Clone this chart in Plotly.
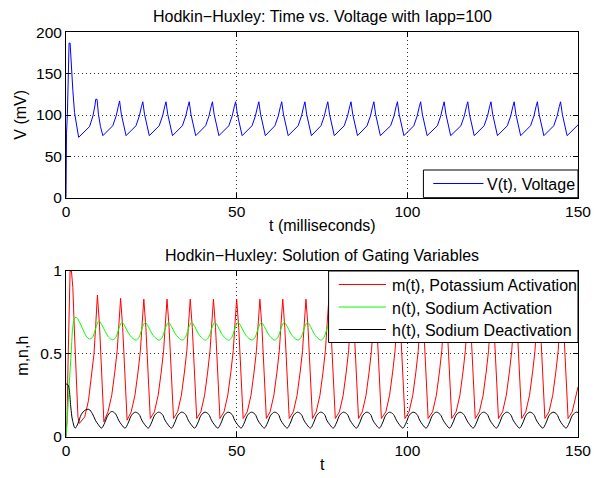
import plotly.graph_objects as go

# ---------------- data (t in ms) ----------------
# membrane voltage, vertices of the trace
t_volt = [
    0.0, 0.05, 0.15, 0.4, 0.7, 0.9, 1.2, 1.5, 2.0, 2.5, 3.0, 3.7,
    6.9, 7.9, 8.5, 8.7, 9.1, 9.5, 10.1, 10.8,
    13.7, 14.7, 15.3, 15.7, 16.2, 16.9, 17.6,
    20.5, 21.5, 22.1, 22.5, 23.0, 23.7, 24.4,
    27.3, 28.3, 28.9, 29.3, 29.8, 30.5, 31.2,
    34.1, 35.1, 35.7, 36.1, 36.6, 37.3, 38.0,
    40.9, 41.9, 42.5, 42.9, 43.4, 44.1, 44.8,
    47.7, 48.7, 49.3, 49.7, 50.2, 50.9, 51.6,
    54.5, 55.5, 56.1, 56.5, 57.0, 57.7, 58.4,
    61.2, 62.2, 62.8, 63.2, 63.7, 64.4, 65.1,
    68.0, 69.0, 69.6, 70.0, 70.5, 71.2, 71.9,
    74.7, 75.7, 76.3, 76.7, 77.2, 77.9, 78.6,
    81.5, 82.5, 83.1, 83.5, 84.0, 84.7, 85.4,
    88.2, 89.2, 89.8, 90.2, 90.7, 91.4, 92.1,
    95.1, 96.1, 96.7, 97.1, 97.6, 98.3, 99.0,
    101.9, 102.9, 103.5, 103.9, 104.4, 105.1, 105.8,
    108.8, 109.8, 110.4, 110.8, 111.3, 112.0, 112.7,
    115.7, 116.7, 117.3, 117.7, 118.2, 118.9, 119.6,
    122.5, 123.5, 124.1, 124.5, 125.0, 125.7, 126.4,
    129.3, 130.3, 130.9, 131.3, 131.8, 132.5, 133.2,
    136.1, 137.1, 137.7, 138.1, 138.6, 139.3, 140.0,
    142.9, 143.9, 144.5, 144.9, 145.4, 146.1, 146.8,
    150.0,
]
v_volt = [
    0, 42, 78, 100, 160, 187, 187, 160, 130, 103, 88, 73,
    86, 99, 112, 119, 119, 101, 86, 75,
    87, 99, 110, 117, 101, 86, 75,
    87, 99, 110, 116, 101, 86, 75,
    87, 99, 110, 116, 101, 86, 75,
    87, 99, 110, 116, 101, 86, 75,
    87, 99, 110, 116, 101, 86, 75,
    87, 99, 110, 116, 101, 86, 75,
    87, 99, 110, 116, 101, 86, 75,
    87, 99, 110, 116, 101, 86, 75,
    87, 99, 110, 116, 101, 86, 75,
    87, 99, 110, 116, 101, 86, 75,
    87, 99, 110, 116, 101, 86, 75,
    87, 99, 110, 116, 101, 86, 75,
    87, 99, 110, 116, 101, 86, 75,
    87, 99, 110, 116, 101, 86, 75,
    87, 99, 110, 116, 101, 86, 75,
    87, 99, 110, 116, 101, 86, 75,
    87, 99, 110, 116, 101, 86, 75,
    87, 99, 110, 116, 101, 86, 75,
    87, 99, 110, 116, 101, 86, 75,
    87, 99, 110, 116, 101, 86, 75,
    88,
]

# gating variable m
t_m = [
    0.0, 0.3, 0.6, 0.9, 1.2, 1.6, 2.0, 2.5, 3.0, 3.5, 3.9,
    5.5, 6.6, 7.5, 8.2, 8.7, 9.2, 9.8, 10.4, 11.1,
    12.3, 13.4, 14.3, 15.0, 15.5, 16.0, 16.6, 17.2, 17.9,
    19.1, 20.2, 21.1, 21.8, 22.3, 22.8, 23.4, 24.0, 24.7,
    25.9, 27.0, 27.9, 28.6, 29.1, 29.6, 30.2, 30.8, 31.5,
    32.7, 33.8, 34.7, 35.4, 35.9, 36.4, 37.0, 37.6, 38.3,
    39.5, 40.6, 41.5, 42.2, 42.7, 43.2, 43.8, 44.4, 45.1,
    46.3, 47.4, 48.3, 49.0, 49.5, 50.0, 50.6, 51.2, 51.9,
    53.1, 54.2, 55.1, 55.8, 56.3, 56.8, 57.4, 58.0, 58.7,
    59.8, 60.9, 61.8, 62.5, 63.0, 63.5, 64.1, 64.7, 65.4,
    66.6, 67.7, 68.6, 69.3, 69.8, 70.3, 70.9, 71.5, 72.2,
    73.3, 74.4, 75.3, 76.0, 76.5, 77.0, 77.6, 78.2, 78.9,
    80.1, 81.2, 82.1, 82.8, 83.3, 83.8, 84.4, 85.0, 85.7,
    86.8, 87.9, 88.8, 89.5, 90.0, 90.5, 91.1, 91.7, 92.4,
    93.7, 94.8, 95.7, 96.4, 96.9, 97.4, 98.0, 98.6, 99.3,
    100.5, 101.6, 102.5, 103.2, 103.7, 104.2, 104.8, 105.4, 106.1,
    107.4, 108.5, 109.4, 110.1, 110.6, 111.1, 111.7, 112.3, 113.0,
    114.3, 115.4, 116.3, 117.0, 117.5, 118.0, 118.6, 119.2, 119.9,
    121.1, 122.2, 123.1, 123.8, 124.3, 124.8, 125.4, 126.0, 126.7,
    127.9, 129.0, 129.9, 130.6, 131.1, 131.6, 132.2, 132.8, 133.5,
    134.7, 135.8, 136.7, 137.4, 137.9, 138.4, 139.0, 139.6, 140.3,
    141.5, 142.6, 143.5, 144.2, 144.7, 145.2, 145.8, 146.4, 147.1,
    148.3, 149.4, 150.0,
]
m_val = [
    0.0, 0.10, 0.45, 0.85, 1.0, 1.0, 0.9, 0.62, 0.32, 0.12, 0.08,
    0.12, 0.22, 0.36, 0.50, 0.67, 0.855, 0.68, 0.37, 0.09,
    0.15, 0.25, 0.39, 0.52, 0.68, 0.835, 0.66, 0.36, 0.10,
    0.15, 0.25, 0.39, 0.52, 0.68, 0.83, 0.66, 0.36, 0.11,
    0.15, 0.25, 0.39, 0.52, 0.68, 0.83, 0.66, 0.36, 0.11,
    0.15, 0.25, 0.39, 0.52, 0.68, 0.83, 0.66, 0.36, 0.11,
    0.15, 0.25, 0.39, 0.52, 0.68, 0.83, 0.66, 0.36, 0.11,
    0.15, 0.25, 0.39, 0.52, 0.68, 0.83, 0.66, 0.36, 0.11,
    0.15, 0.25, 0.39, 0.52, 0.68, 0.83, 0.66, 0.36, 0.11,
    0.15, 0.25, 0.39, 0.52, 0.68, 0.83, 0.66, 0.36, 0.11,
    0.15, 0.25, 0.39, 0.52, 0.68, 0.83, 0.66, 0.36, 0.11,
    0.15, 0.25, 0.39, 0.52, 0.68, 0.83, 0.66, 0.36, 0.11,
    0.15, 0.25, 0.39, 0.52, 0.68, 0.83, 0.66, 0.36, 0.11,
    0.15, 0.25, 0.39, 0.52, 0.68, 0.83, 0.66, 0.36, 0.11,
    0.15, 0.25, 0.39, 0.52, 0.68, 0.83, 0.66, 0.36, 0.11,
    0.15, 0.25, 0.39, 0.52, 0.68, 0.83, 0.66, 0.36, 0.11,
    0.15, 0.25, 0.39, 0.52, 0.68, 0.83, 0.66, 0.36, 0.11,
    0.15, 0.25, 0.39, 0.52, 0.68, 0.83, 0.66, 0.36, 0.11,
    0.15, 0.25, 0.39, 0.52, 0.68, 0.83, 0.66, 0.36, 0.11,
    0.15, 0.25, 0.39, 0.52, 0.68, 0.83, 0.66, 0.36, 0.11,
    0.15, 0.25, 0.39, 0.52, 0.68, 0.83, 0.66, 0.36, 0.11,
    0.15, 0.25, 0.39, 0.52, 0.68, 0.83, 0.66, 0.36, 0.11,
    0.15, 0.25, 0.30,
]

# gating variable n
t_n = [
    0.0, 0.4, 0.9, 1.5, 2.1, 2.7, 3.3, 4.0, 5.0, 6.0, 6.9,
    7.8, 8.4, 8.9, 9.6, 10.5, 11.5, 12.5,
    13.7, 14.6, 15.2, 15.7, 16.4, 17.3, 18.3, 19.3,
    20.5, 21.4, 22.0, 22.5, 23.2, 24.1, 25.1, 26.1,
    27.3, 28.2, 28.8, 29.3, 30.0, 30.9, 31.9, 32.9,
    34.1, 35.0, 35.6, 36.1, 36.8, 37.7, 38.7, 39.7,
    40.9, 41.8, 42.4, 42.9, 43.6, 44.5, 45.5, 46.5,
    47.7, 48.6, 49.2, 49.7, 50.4, 51.3, 52.3, 53.3,
    54.5, 55.4, 56.0, 56.5, 57.2, 58.1, 59.1, 60.1,
    61.2, 62.1, 62.7, 63.2, 63.9, 64.8, 65.8, 66.8,
    68.0, 68.9, 69.5, 70.0, 70.7, 71.6, 72.6, 73.6,
    74.7, 75.6, 76.2, 76.7, 77.4, 78.3, 79.3, 80.3,
    81.5, 82.4, 83.0, 83.5, 84.2, 85.1, 86.1, 87.1,
    88.2, 89.1, 89.7, 90.2, 90.9, 91.8, 92.8, 93.8,
    95.1, 96.0, 96.6, 97.1, 97.8, 98.7, 99.7, 100.7,
    101.9, 102.8, 103.4, 103.9, 104.6, 105.5, 106.5, 107.5,
    108.8, 109.7, 110.3, 110.8, 111.5, 112.4, 113.4, 114.4,
    115.7, 116.6, 117.2, 117.7, 118.4, 119.3, 120.3, 121.3,
    122.5, 123.4, 124.0, 124.5, 125.2, 126.1, 127.1, 128.1,
    129.3, 130.2, 130.8, 131.3, 132.0, 132.9, 133.9, 134.9,
    136.1, 137.0, 137.6, 138.1, 138.8, 139.7, 140.7, 141.7,
    142.9, 143.8, 144.4, 144.9, 145.6, 146.5, 147.5, 148.5,
    150.0,
]
n_val = [
    0.0, 0.12, 0.30, 0.50, 0.68, 0.72, 0.715, 0.69, 0.645, 0.605, 0.59,
    0.60, 0.635, 0.665, 0.70, 0.675, 0.635, 0.60,
    0.585, 0.60, 0.635, 0.665, 0.69, 0.665, 0.625, 0.598,
    0.583, 0.60, 0.635, 0.665, 0.69, 0.665, 0.625, 0.598,
    0.583, 0.60, 0.635, 0.665, 0.69, 0.665, 0.625, 0.598,
    0.583, 0.60, 0.635, 0.665, 0.69, 0.665, 0.625, 0.598,
    0.583, 0.60, 0.635, 0.665, 0.69, 0.665, 0.625, 0.598,
    0.583, 0.60, 0.635, 0.665, 0.69, 0.665, 0.625, 0.598,
    0.583, 0.60, 0.635, 0.665, 0.69, 0.665, 0.625, 0.598,
    0.583, 0.60, 0.635, 0.665, 0.69, 0.665, 0.625, 0.598,
    0.583, 0.60, 0.635, 0.665, 0.69, 0.665, 0.625, 0.598,
    0.583, 0.60, 0.635, 0.665, 0.69, 0.665, 0.625, 0.598,
    0.583, 0.60, 0.635, 0.665, 0.69, 0.665, 0.625, 0.598,
    0.583, 0.60, 0.635, 0.665, 0.69, 0.665, 0.625, 0.598,
    0.583, 0.60, 0.635, 0.665, 0.69, 0.665, 0.625, 0.598,
    0.583, 0.60, 0.635, 0.665, 0.69, 0.665, 0.625, 0.598,
    0.583, 0.60, 0.635, 0.665, 0.69, 0.665, 0.625, 0.598,
    0.583, 0.60, 0.635, 0.665, 0.69, 0.665, 0.625, 0.598,
    0.583, 0.60, 0.635, 0.665, 0.69, 0.665, 0.625, 0.598,
    0.583, 0.60, 0.635, 0.665, 0.69, 0.665, 0.625, 0.598,
    0.583, 0.60, 0.635, 0.665, 0.69, 0.665, 0.625, 0.598,
    0.583, 0.60, 0.635, 0.665, 0.69, 0.665, 0.625, 0.598,
    0.584,
]

# gating variable h
t_h = [
    0.0, 0.5, 0.9, 1.4, 1.9, 2.7, 3.5, 4.5, 5.6, 6.7, 7.7,
    8.6, 9.5, 10.4, 11.3, 12.3, 13.4, 14.5,
    15.4, 16.3, 17.3, 18.2, 19.2, 20.3, 21.4,
    22.2, 23.1, 24.1, 25.0, 26.0, 27.1, 28.2,
    29.0, 29.9, 30.9, 31.8, 32.8, 33.9, 35.0,
    35.8, 36.7, 37.7, 38.6, 39.6, 40.7, 41.8,
    42.6, 43.5, 44.5, 45.4, 46.4, 47.5, 48.6,
    49.4, 50.3, 51.3, 52.2, 53.2, 54.3, 55.4,
    56.2, 57.1, 58.1, 59.0, 60.0, 61.1, 62.2,
    62.9, 63.8, 64.8, 65.7, 66.7, 67.8, 68.9,
    69.7, 70.6, 71.6, 72.5, 73.5, 74.6, 75.7,
    76.4, 77.3, 78.3, 79.2, 80.2, 81.3, 82.4,
    83.2, 84.1, 85.1, 86.0, 87.0, 88.1, 89.2,
    89.9, 90.8, 91.8, 92.7, 93.7, 94.8, 95.9,
    96.8, 97.7, 98.7, 99.6, 100.6, 101.7, 102.8,
    103.6, 104.5, 105.5, 106.4, 107.4, 108.5, 109.6,
    110.5, 111.4, 112.4, 113.3, 114.3, 115.4, 116.5,
    117.4, 118.3, 119.3, 120.2, 121.2, 122.3, 123.4,
    124.2, 125.1, 126.1, 127.0, 128.0, 129.1, 130.2,
    131.0, 131.9, 132.9, 133.8, 134.8, 135.9, 137.0,
    137.8, 138.7, 139.7, 140.6, 141.6, 142.7, 143.8,
    144.6, 145.5, 146.5, 147.4, 148.4, 149.5,
    150.0,
]
h_val = [
    0.318, 0.315, 0.29, 0.18, 0.10, 0.052, 0.08, 0.135, 0.16, 0.165, 0.14,
    0.10, 0.072, 0.052, 0.082, 0.13, 0.152, 0.138,
    0.10, 0.072, 0.052, 0.082, 0.13, 0.148, 0.135,
    0.10, 0.072, 0.052, 0.082, 0.13, 0.148, 0.135,
    0.10, 0.072, 0.052, 0.082, 0.13, 0.148, 0.135,
    0.10, 0.072, 0.052, 0.082, 0.13, 0.148, 0.135,
    0.10, 0.072, 0.052, 0.082, 0.13, 0.148, 0.135,
    0.10, 0.072, 0.052, 0.082, 0.13, 0.148, 0.135,
    0.10, 0.072, 0.052, 0.082, 0.13, 0.148, 0.135,
    0.10, 0.072, 0.052, 0.082, 0.13, 0.148, 0.135,
    0.10, 0.072, 0.052, 0.082, 0.13, 0.148, 0.135,
    0.10, 0.072, 0.052, 0.082, 0.13, 0.148, 0.135,
    0.10, 0.072, 0.052, 0.082, 0.13, 0.148, 0.135,
    0.10, 0.072, 0.052, 0.082, 0.13, 0.148, 0.135,
    0.10, 0.072, 0.052, 0.082, 0.13, 0.148, 0.135,
    0.10, 0.072, 0.052, 0.082, 0.13, 0.148, 0.135,
    0.10, 0.072, 0.052, 0.082, 0.13, 0.148, 0.135,
    0.10, 0.072, 0.052, 0.082, 0.13, 0.148, 0.135,
    0.10, 0.072, 0.052, 0.082, 0.13, 0.148, 0.135,
    0.10, 0.072, 0.052, 0.082, 0.13, 0.148, 0.135,
    0.10, 0.072, 0.052, 0.082, 0.13, 0.148, 0.135,
    0.10, 0.072, 0.052, 0.082, 0.13, 0.148,
    0.146,
]

# axis ticks
t_ticks = [0, 50, 100, 150]
v_ticks = [0, 50, 100, 150, 200]
g_ticks = [0, 0.5, 1]
g_ticktext = ["0", "0.5", "1"]

# ---------------- layout helpers ----------------
W, H = 603, 478
ML, MR, MT, MB = 66, 17, 32, 41
PW, PH = W - ML - MR, H - MT - MB


def fx(p):
    return (p - ML) / PW


def fy(p):
    return (H - MB - p) / PH


FONT = "Liberation Sans, Arial, Helvetica, sans-serif"
FS_TICK = 15.5
FS_TEXT = 16

fig = go.Figure()
fig.add_trace(go.Scatter(x=t_volt, y=v_volt, mode="lines",
                         line=dict(color="#0000ff", width=1),
                         xaxis="x", yaxis="y", showlegend=False))
fig.add_trace(go.Scatter(x=t_m, y=m_val, mode="lines",
                         line=dict(color="#ff0000", width=1),
                         xaxis="x2", yaxis="y2", showlegend=False))
fig.add_trace(go.Scatter(x=t_n, y=n_val, mode="lines",
                         line=dict(color="#00ff00", width=1, shape="spline", smoothing=1),
                         xaxis="x2", yaxis="y2", showlegend=False))
fig.add_trace(go.Scatter(x=t_h, y=h_val, mode="lines",
                         line=dict(color="#000000", width=1, shape="spline", smoothing=1),
                         xaxis="x2", yaxis="y2", showlegend=False))

axis_style = dict(
    showline=True, linecolor="black", linewidth=1, mirror="ticks",
    ticks="inside", ticklen=5, tickcolor="black", tickwidth=1,
    showgrid=True, gridcolor="#303030", gridwidth=1, griddash="1px,3px",
    zeroline=False, tickfont=dict(family=FONT, size=FS_TICK, color="black"),
)

fig.update_layout(
    width=W, height=H,
    margin=dict(l=ML, r=MR, t=MT, b=MB, pad=0),
    paper_bgcolor="white", plot_bgcolor="white",
    font=dict(family=FONT, size=FS_TICK, color="black"),
    showlegend=False,
    xaxis=dict(domain=[0, 1], range=[0, 150], tickvals=t_ticks,
               anchor="y", **axis_style),
    yaxis=dict(domain=[fy(197.7), fy(32.3)], range=[0, 200], tickvals=v_ticks,
               anchor="x", **axis_style),
    xaxis2=dict(domain=[0, 1], range=[0, 150], tickvals=t_ticks,
                anchor="y2", **axis_style),
    yaxis2=dict(domain=[fy(436.7), fy(271)], range=[0, 1], tickvals=g_ticks,
                ticktext=g_ticktext, anchor="x2", **axis_style),
)

ann = []


def text(s, x, y, xanchor="center", angle=0):
    ann.append(dict(text=s, x=fx(x), y=fy(y), xref="paper", yref="paper",
                    xanchor=xanchor, yanchor="middle", showarrow=False,
                    textangle=angle,
                    font=dict(family=FONT, size=FS_TEXT, color="black")))


# titles and axis labels
text("Hodkin\u2212Huxley: Time vs. Voltage with Iapp=100", 326, 16)
text("Hodkin\u2212Huxley: Solution of Gating Variables", 326, 255)
text("t (milliseconds)", 326, 225)
text("t", 326, 464)
text("V (mV)", 19, 115, angle=-90)
text("m,n,h", 21, 356, angle=-90)

shapes = []


def box(x0, y0, x1, y1):
    shapes.append(dict(type="rect", xref="paper", yref="paper",
                       x0=fx(x0), x1=fx(x1), y0=fy(y1), y1=fy(y0),
                       line=dict(color="black", width=1), fillcolor="white",
                       layer="above"))


def sample(x0, x1, y, color):
    shapes.append(dict(type="line", xref="paper", yref="paper",
                       x0=fx(x0), x1=fx(x1), y0=fy(y), y1=fy(y),
                       line=dict(color=color, width=1), layer="above"))


# legend of the voltage panel
box(429, 170, 586, 197.7)
sample(439, 490, 183.5, "#0000ff")
text("V(t), Voltage", 492, 184.5, xanchor="left")

# legend of the gating panel
box(332.7, 271, 586, 342.5)
entries = [("m(t), Potassium Activation", "#ff0000", 284.5),
           ("n(t), Sodium Activation", "#00ff00", 307.0),
           ("h(t), Sodium Deactivation", "#000000", 329.5)]
for label, col, yy in entries:
    sample(343, 391, yy, col)
    text(label, 395, yy + 1, xanchor="left")

fig.update_layout(annotations=ann, shapes=shapes)
fig.write_html("out.html")
